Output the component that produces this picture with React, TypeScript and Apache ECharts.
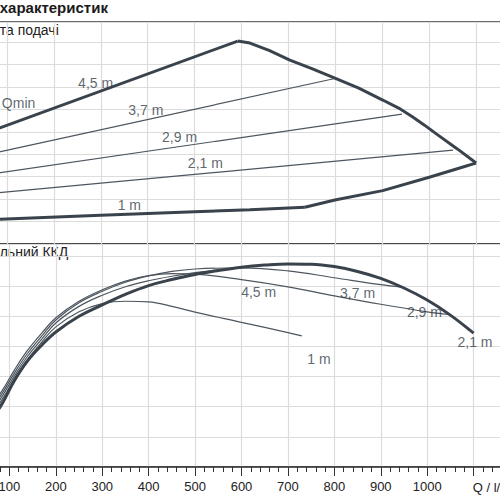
import React, { useEffect, useRef } from "react";
import * as echarts from "echarts";

// ---------- Data (Q in x-units, head H, efficiency %) ----------
const head45 = [[50, 4.91], [592, 9.05]];
const head37 = [[50, 3.95], [799, 7.38]];
const head29 = [[50, 3.07], [942, 5.79]];
const head21 = [[50, 2.22], [1051, 4.19]];
const head1 = [[50, 1.07], [85, 1.10], [300, 1.28], [500, 1.44], [618, 1.53], [735, 1.64]];
const limitTop = [[592, 9.05], [618, 8.96], [660, 8.62], [703, 8.2], [750, 7.82], [799, 7.4], [850, 6.95], [901, 6.42], [935, 6.06], [965, 5.66], [990, 5.3], [1016, 4.9], [1060, 4.24], [1100, 3.61]];
const limitBottom = [[1100, 3.61], [1002, 2.99], [901, 2.38], [799, 1.96], [735, 1.64]];

const effMain = [[60, 15.5], [85, 21.2], [110, 28.5], [138, 35], [170, 40.5], [200, 44.8], [250, 50], [300, 53.8], [350, 57.3], [400, 60.2], [450, 62.2], [500, 63.9], [550, 65.2], [600, 66.3], [650, 67.0], [700, 67.4], [750, 67.3], [800, 66.5], [850, 64.9], [900, 62.6], [950, 59.4], [1000, 55.4], [1050, 50.4], [1100, 44.4]];
const effB = [[60, 20], [85, 25.5], [110, 32], [138, 38.5], [170, 44.5], [200, 49.5], [250, 55], [300, 58.8], [350, 61.7], [400, 63.5], [450, 64.2], [500, 64], [600, 62.2], [700, 59.8], [800, 56.8], [900, 54], [1000, 51.5], [1047, 50.6]];
const effA = [[60, 19], [85, 24.6], [110, 31], [138, 37.5], [170, 43.5], [200, 48.8], [250, 54.5], [300, 58.3], [350, 61.3], [400, 63.4], [450, 64.9], [500, 65.7], [600, 66.1], [700, 65.1], [800, 62.8], [900, 60.5], [945, 59.7]];
const effC = [[60, 18], [85, 23.6], [110, 30], [138, 36.5], [170, 42.5], [200, 47.8], [250, 53.3], [300, 57], [350, 59.8], [400, 61.8], [450, 63.3], [500, 64.5], [550, 65.4], [590, 66.1]];
const eff1 = [[60, 17], [85, 22.6], [110, 29], [138, 35.5], [170, 41.5], [200, 46.5], [250, 51.5], [300, 54.2], [350, 55], [400, 54.8], [450, 53.3], [500, 51.4], [600, 48.0], [700, 44.6], [730, 43.5]];

const upperLabelText = ["4,5 m", "3,7 m", "2,9 m", "2,1 m", "1 m"];
const upperLabelQ = [289, 396, 468, 523, 361];
const upperLabelH = [7.16, 5.97, 4.78, 3.61, 1.72];
const lowerLabelText = ["4,5 m", "3,7 m", "2,9 m", "2,1 m", "1 m"];
const lowerLabelQ = [637, 850, 994, 1103, 767];
const lowerLabelE = [58.2, 57.7, 51.4, 41.6, 35.8];
const qminQ = 124.8;
const qminH = 6.27;

const xTicks = [0, 100, 200, 300, 400, 500, 600, 700, 800, 900, 1000, 1100, 1200];

const FONT = "'Liberation Sans', Arial, sans-serif";
const THICK = "#3a434c";
const THIN = "#4d565f";
const GRIDC = "#dcdcdc";

// pixel scale of the x axis: 0.469 px per unit, Q=100 at x=7.2 on the page
const PX_PER_Q = 0.469;
const OFF = 100 * PX_PER_Q - 7.2; // page x = chart x - OFF
const CHART_W = 1200 * PX_PER_Q;

function lineSeries(name: string, data: number[][], idx: number, thick: boolean, smooth: boolean | number) {
  return {
    type: "line",
    name,
    data,
    xAxisIndex: idx,
    yAxisIndex: idx,
    symbol: "none",
    showSymbol: false,
    smooth,
    silent: true,
    z: thick ? 4 : 3,
    lineStyle: { color: thick ? THICK : THIN, width: thick ? 3 : 1.2 },
  };
}

function labelSeries(texts: string[], xs: number[], ys: number[], idx: number) {
  return {
    type: "scatter",
    xAxisIndex: idx,
    yAxisIndex: idx,
    symbolSize: 0,
    silent: true,
    z: 6,
    data: texts.map((t, i) => ({ name: t, value: [xs[i], ys[i]] })),
    label: {
      show: true,
      position: "inside",
      formatter: "{b}",
      color: "#353e47",
      fontSize: 14,
      fontFamily: FONT,
    },
  };
}

export default function App() {
  const ref = useRef<HTMLDivElement>(null);
  useEffect(() => {
    const chart = echarts.init(ref.current!, null, { renderer: "svg" });
    const xBase = {
      type: "value",
      min: xTicks[0],
      max: xTicks[xTicks.length - 1],
      interval: 100,
      splitLine: { show: true, lineStyle: { color: GRIDC, width: 1.2 } },
    };
    chart.setOption({
      animation: false,
      backgroundColor: "#ffffff",
      grid: [
        { left: 0, right: 0, top: 22, bottom: 256, show: true, borderColor: "#3d3d3d", borderWidth: 1.5, backgroundColor: "transparent" },
        { left: 0, right: 0, top: 244, bottom: 33, show: true, borderColor: "#3d3d3d", borderWidth: 1.5, backgroundColor: "transparent" },
      ],
      xAxis: [
        { ...xBase, gridIndex: 0, axisLabel: { show: false }, axisTick: { show: false }, axisLine: { show: false } },
        {
          ...xBase,
          gridIndex: 1,
          axisLine: { show: true, lineStyle: { color: "#333", width: 1.5 } },
          axisTick: { show: true, length: 9, lineStyle: { color: "#333", width: 1 } },
          minorTick: { show: true, splitNumber: 5, length: 5, lineStyle: { color: "#333", width: 1 } },
          axisLabel: {
            show: true,
            margin: 13,
            color: "#222",
            fontSize: 13,
            fontFamily: FONT,
            formatter: (v: number) => (v === 0 || v >= 1100 ? "" : String(v)),
          },
        },
      ],
      yAxis: [
        { type: "value", gridIndex: 0, min: 0, max: 9.9, interval: 1, axisLabel: { show: false }, axisTick: { show: false }, axisLine: { show: false }, splitLine: { show: true, lineStyle: { color: GRIDC, width: 1.2 } } },
        { type: "value", gridIndex: 1, min: 0, max: 74, interval: 10, axisLabel: { show: false }, axisTick: { show: false }, axisLine: { show: false }, splitLine: { show: true, lineStyle: { color: GRIDC, width: 1.2 } } },
      ],
      series: [
        lineSeries("4,5 m", head45, 0, true, false),
        lineSeries("3,7 m", head37, 0, false, false),
        lineSeries("2,9 m", head29, 0, false, false),
        lineSeries("2,1 m", head21, 0, false, false),
        lineSeries("1 m", head1, 0, true, false),
        lineSeries("limit top", limitTop, 0, true, false),
        lineSeries("limit bottom", limitBottom, 0, true, false),
        lineSeries("eff 2,1 m", effMain, 1, true, 0.4),
        lineSeries("eff B", effB, 1, false, 0.4),
        lineSeries("eff A", effA, 1, false, 0.4),
        lineSeries("eff C", effC, 1, false, 0.4),
        lineSeries("eff 1 m", eff1, 1, false, 0.4),
        labelSeries(upperLabelText, upperLabelQ, upperLabelH, 0),
        labelSeries(lowerLabelText, lowerLabelQ, lowerLabelE, 1),
        labelSeries(["Qmin"], [qminQ], [qminH], 0),
      ],
      graphic: [
        { type: "text", left: OFF, top: 0, style: { text: "характеристик", font: `bold 15px ${FONT}`, fill: "#1a1a1a" } },
        { type: "text", left: OFF, top: 23, style: { text: "та подачі", font: `14px ${FONT}`, fill: "#222" } },
        { type: "text", left: OFF, top: 245, style: { text: "льний ККД", font: `14px ${FONT}`, fill: "#222" } },
        { type: "text", left: OFF + 473, top: 481, style: { text: "Q / l/s", font: `13px ${FONT}`, fill: "#222" } },
      ],
    });
    return () => chart.dispose();
  }, []);
  return (
    <div
      ref={ref}
      style={{ position: "fixed", left: -OFF, top: 0, width: CHART_W, height: 500, background: "#fff" }}
    />
  );
}
